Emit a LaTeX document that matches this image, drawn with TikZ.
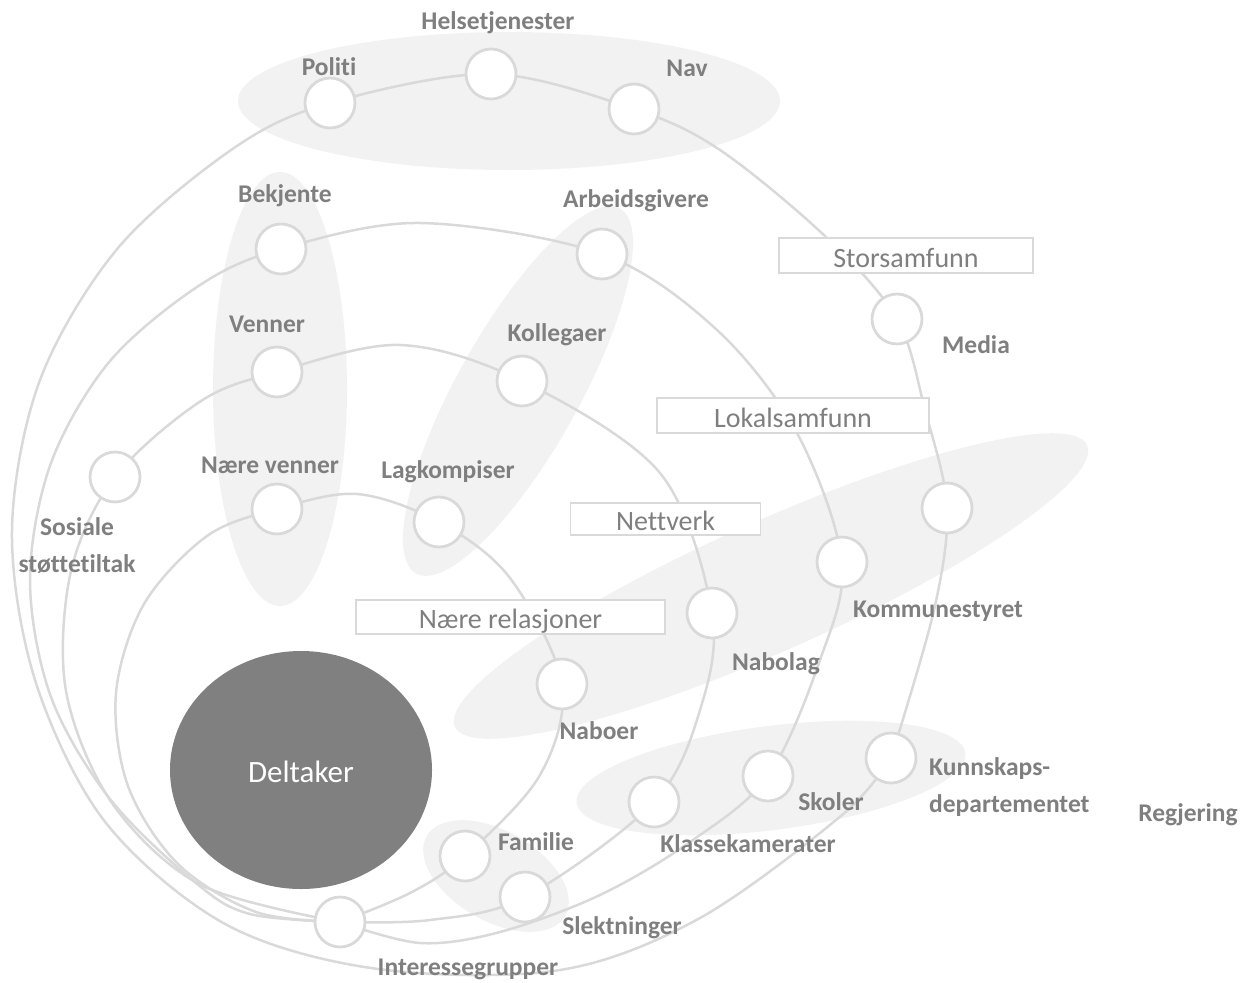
\documentclass[tikz,border=0pt]{standalone}
\usepackage{fontspec}
\setmainfont{Carlito}[Ligatures=NoCommon]
\usetikzlibrary{shapes.geometric}
\pgfdeclarelayer{shade}
\pgfdeclarelayer{back}
\pgfsetlayers{shade,back,main}
\definecolor{ringgray}{HTML}{D9D9D9}
\definecolor{shadegray}{HTML}{F2F2F2}
\definecolor{txtgray}{HTML}{7F7F7F}
\definecolor{coregray}{HTML}{808080}
\tikzset{
  dot/.style={circle, draw=ringgray, line width=2.75pt, fill=white, minimum size=50pt, inner sep=0pt},
  lbl/.style={text=txtgray, font=\fontsize{25.5}{37}\selectfont\bfseries, inner sep=0pt},
  bl/.style={lbl, anchor=base, yshift=-8.5pt},
  ringbox/.style={draw=ringgray, line width=1.5pt, fill=white, text=txtgray, font=\fontsize{28}{32}\selectfont, inner sep=0pt, text height=23pt, text depth=0pt},
  ring/.style={draw=ringgray, line width=2.5pt},
  blob/.style={ellipse, fill=shadegray, inner sep=0pt},
}
\begin{document}
\begin{tikzpicture}[x=1pt,y=-1pt]
\useasboundingbox (0,0) rectangle (1246,982);
% shaded groups
\begin{pgfonlayer}{shade}
\node[blob, minimum width=542pt, minimum height=138pt] (gStor) at (509,101) {};
\node[blob, minimum width=134pt, minimum height=434pt] (gVenn) at (280,389) {};
\node[blob, minimum width=418pt, minimum height=122pt, rotate=60.8] (gJobb) at (518,391) {};
\node[blob, minimum width=692pt, minimum height=130pt, rotate=24] (gNabo) at (771,586) {};
\node[blob, minimum width=392pt, minimum height=104pt, rotate=7.3] (gSkole) at (771,778) {};
\node[blob, minimum width=160pt, minimum height=90pt, rotate=-30] (gFam) at (496,876) {};
\end{pgfonlayer}
% centre
\node[ellipse, fill=coregray, minimum width=262pt, minimum height=238pt, inner sep=0pt, text=white, font=\fontsize{31}{36}\selectfont, text height=24pt, text depth=0pt] (del) at (301,770) {Deltaker};
% circles
\node[dot] (pol) at (330,103) {};
\node[dot] (hel) at (491,74) {};
\node[dot] (nav) at (634,109) {};
\node[dot] (bek) at (281,249) {};
\node[dot] (arb) at (602,254) {};
\node[dot] (med) at (897,319) {};
\node[dot] (ven) at (277,372) {};
\node[dot] (kol) at (522,381) {};
\node[dot] (sos) at (115,477) {};
\node[dot] (nvn) at (277,509) {};
\node[dot] (lag) at (439,522) {};
\node[dot] (nbl) at (712,613) {};
\node[dot] (kst) at (842,562) {};
\node[dot] (reg) at (947,508) {};
\node[dot] (nab) at (562,684) {};
\node[dot] (fam) at (465,856) {};
\node[dot] (slk) at (525,897) {};
\node[dot] (kls) at (654,802) {};
\node[dot] (skl) at (768,776) {};
\node[dot] (kun) at (891,758) {};
\node[dot] (int) at (340,922) {};
% rings
\begin{pgfonlayer}{back}
\draw[ring] plot[smooth, tension=0.55] coordinates {(int.center) (256,912) (178,864) (128,786) (116,693) (144,604) (207,536) (nvn.center) (357,494) (lag.center) (510,578) (nab.center) (540,775) (fam.center) (410,893) (int.center)};
\draw[ring] plot[smooth, tension=0.55] coordinates {(int.center) (201,885) (112,803) (66,691) (71,571) (sos.center) (201,401) (ven.center) (400,345) (kol.center) (660,473) (nbl.center) (700,710) (kls.center) (slk.center) (430,920) (int.center)};
\draw[ring] plot[smooth, tension=0.55] coordinates {(int.center) (250,914) (196,883) (110,799) (51,697) (30,580) (51,463) (110,361) (200,285) (bek.center) (420,223) (arb.center) (717,330) (797,433) (kst.center) (820,660) (skl.center) (690,842) (600,895) (500,932) (420,943) (int.center)};
\draw[ring] plot[smooth, tension=0.55] coordinates {(kun.center) (842,815) (700,918) (560,970) (378,969) (227,925) (106,823) (36,683) (12,531) (40,380) (118,248) (234,148) (pol.center) (hel.center) (nav.center) (720,150) (827,238) (med.center) (925,410) (reg.center) (934,610) (kun.center)};
\end{pgfonlayer}
% boxes
\node[ringbox, minimum width=254pt, minimum height=35pt] (bStor) at (906,255.5) {Storsamfunn};
\node[ringbox, minimum width=272pt, minimum height=35pt] (bLok) at (793,415.5) {Lokalsamfunn};
\node[ringbox, minimum width=190pt, minimum height=32pt] (bNett) at (665.5,519) {Nettverk};
\node[ringbox, minimum width=309pt, minimum height=34pt] (bNaer) at (510.5,617) {Nære relasjoner};
% labels
\node[bl] (lHel) at (498,21) {Helsetjenester};
\node[bl] (lPol) at (329,67) {Politi};
\node[bl] (lNav) at (687,68) {Nav};
\node[bl] (lBek) at (285,194) {Bekjente};
\node[bl] (lArb) at (636,199) {Arbeidsgivere};
\node[bl] (lVen) at (267,324) {Venner};
\node[bl] (lKol) at (557,333) {Kollegaer};
\node[bl] (lMed) at (976,345) {Media};
\node[bl] (lNvn) at (270,465) {Nære venner};
\node[bl] (lLag) at (448,470) {Lagkompiser};
\node[lbl, align=center] (lSos) at (77,546) {Sosiale\\støttetiltak};
\node[bl] (lKst) at (938,609) {Kommunestyret};
\node[bl] (lNbl) at (776,662) {Nabolag};
\node[bl] (lNab) at (599,731) {Naboer};
\node[bl] (lFam) at (536,842) {Familie};
\node[bl] (lKls) at (748,844) {Klassekamerater};
\node[bl] (lSkl) at (831,802) {Skoler};
\node[lbl, align=left, anchor=west] (lKun) at (929,787) {Kunnskaps-\\departementet};
\node[bl] (lReg) at (1188,813) {Regjering};
\node[bl] (lSlk) at (622,926) {Slektninger};
\node[bl] (lInt) at (468,967) {Interessegrupper};
\end{tikzpicture}
\end{document}
